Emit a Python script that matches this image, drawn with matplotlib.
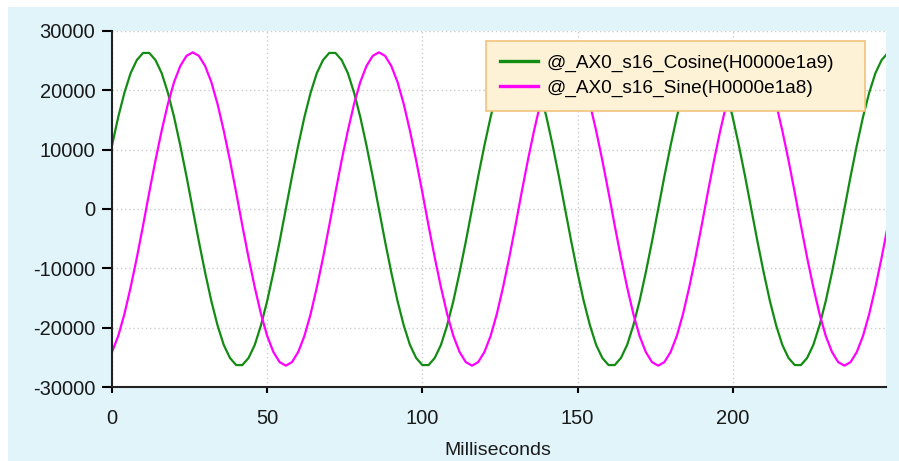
import matplotlib.pyplot as plt
from matplotlib.patches import Rectangle

ms = list(range(0, 252, 2))

cosine = [10700, 15500, 19600, 22900, 25100, 26300, 26300, 25100, 22900, 19600, 15500, 10700, 5500, 0, -5500,
          -10700, -15500, -19600, -22900, -25100, -26300, -26300, -25100, -22900, -19600, -15500, -10700, -5500, 0, 5500,
          10700, 15500, 19600, 22900, 25100, 26300, 26300, 25100, 22900, 19600, 15500, 10700, 5500, 0, -5500,
          -10700, -15500, -19600, -22900, -25100, -26300, -26300, -25100, -22900, -19600, -15500, -10700, -5500, 0, 5500,
          10700, 15500, 19600, 22900, 25100, 26300, 26300, 25100, 22900, 19600, 15500, 10700, 5500, 0, -5500,
          -10700, -15500, -19600, -22900, -25100, -26300, -26300, -25100, -22900, -19600, -15500, -10700, -5500, 0, 5500,
          10700, 15500, 19600, 22900, 25100, 26300, 26300, 25100, 22900, 19600, 15500, 10700, 5500, 0, -5500,
          -10700, -15500, -19600, -22900, -25100, -26300, -26300, -25100, -22900, -19600, -15500, -10700, -5500, 0, 5500,
          10700, 15500, 19600, 22900, 25100, 26300]

sine = [-24100, -21400, -17700, -13200, -8200, -2800, 2800, 8200, 13200, 17700, 21400, 24100, 25800, 26400, 25800,
        24100, 21400, 17700, 13200, 8200, 2800, -2800, -8200, -13200, -17700, -21400, -24100, -25800, -26400, -25800,
        -24100, -21400, -17700, -13200, -8200, -2800, 2800, 8200, 13200, 17700, 21400, 24100, 25800, 26400, 25800,
        24100, 21400, 17700, 13200, 8200, 2800, -2800, -8200, -13200, -17700, -21400, -24100, -25800, -26400, -25800,
        -24100, -21400, -17700, -13200, -8200, -2800, 2800, 8200, 13200, 17700, 21400, 24100, 25800, 26400, 25800,
        24100, 21400, 17700, 13200, 8200, 2800, -2800, -8200, -13200, -17700, -21400, -24100, -25800, -26400, -25800,
        -24100, -21400, -17700, -13200, -8200, -2800, 2800, 8200, 13200, 17700, 21400, 24100, 25800, 26400, 25800,
        24100, 21400, 17700, 13200, 8200, 2800, -2800, -8200, -13200, -17700, -21400, -24100, -25800, -26400, -25800,
        -24100, -21400, -17700, -13200, -8200, -2800]

labels = ['@_AX0_s16_Cosine(H0000e1a9)', '@_AX0_s16_Sine(H0000e1a8)']
x_ticks = [0, 50, 100, 150, 200]
y_ticks = [-30000, -20000, -10000, 0, 10000, 20000, 30000]

plt.rcParams['font.family'] = ['Liberation Sans', 'DejaVu Sans']
plt.rcParams['axes.unicode_minus'] = False

fig = plt.figure(figsize=(8.99, 4.61), dpi=100)
fig.patch.set_facecolor('white')
# light blue panel behind the chart
fig.patches.append(Rectangle((8 / 899, 0), 1, 454 / 461, transform=fig.transFigure,
                             facecolor='#e0f4fa', edgecolor='none', zorder=-10))

ax = fig.add_axes([0.1246, 0.1605, 0.8609, 0.7723])
ax.set_facecolor('white')

ax.plot(ms, cosine, color='#128c12', lw=1.6, label=labels[0])
ax.plot(ms, sine, color='#ff00ff', lw=1.6, label=labels[1])

ax.set_xlim(0, 249.4)
ax.set_ylim(-30000, 30000)
ax.set_xticks(x_ticks)
ax.set_yticks(y_ticks)
ax.grid(True, color='#cccccc', linestyle=(0, (1, 2)), lw=1)
ax.set_axisbelow(True)

for s in ['top', 'right']:
    ax.spines[s].set_visible(False)
for s in ['left', 'bottom']:
    ax.spines[s].set_linewidth(1.5)
    ax.spines[s].set_color('#222222')

ax.tick_params(axis='y', length=7, width=1.5, pad=5, labelsize=14.5, labelcolor='#1a1a1a')
ax.tick_params(axis='x', length=4.5, width=1.5, pad=11, labelsize=14.5, labelcolor='#1a1a1a')

ax.set_xlabel('Milliseconds', fontsize=14, color='#1a1a1a')
ax.xaxis.set_label_coords(0.498, -0.1545)

# legend box spans x 486..865 px, top at 41 px
leg = ax.legend(loc='upper left', bbox_to_anchor=(0.4832, 0.5, 0.4897, 0.4727), mode='expand',
                borderaxespad=0, fontsize=13.7, fancybox=False, framealpha=1, borderpad=0.72,
                labelspacing=0.39, handlelength=2.0, handletextpad=0.45)
leg.get_frame().set_facecolor('#fdf2d6')
leg.get_frame().set_edgecolor('#f2c27a')
leg.get_frame().set_linewidth(1.2)
for line in leg.get_lines():
    line.set_linewidth(2.4)

fig.savefig('out.png', dpi=100)
